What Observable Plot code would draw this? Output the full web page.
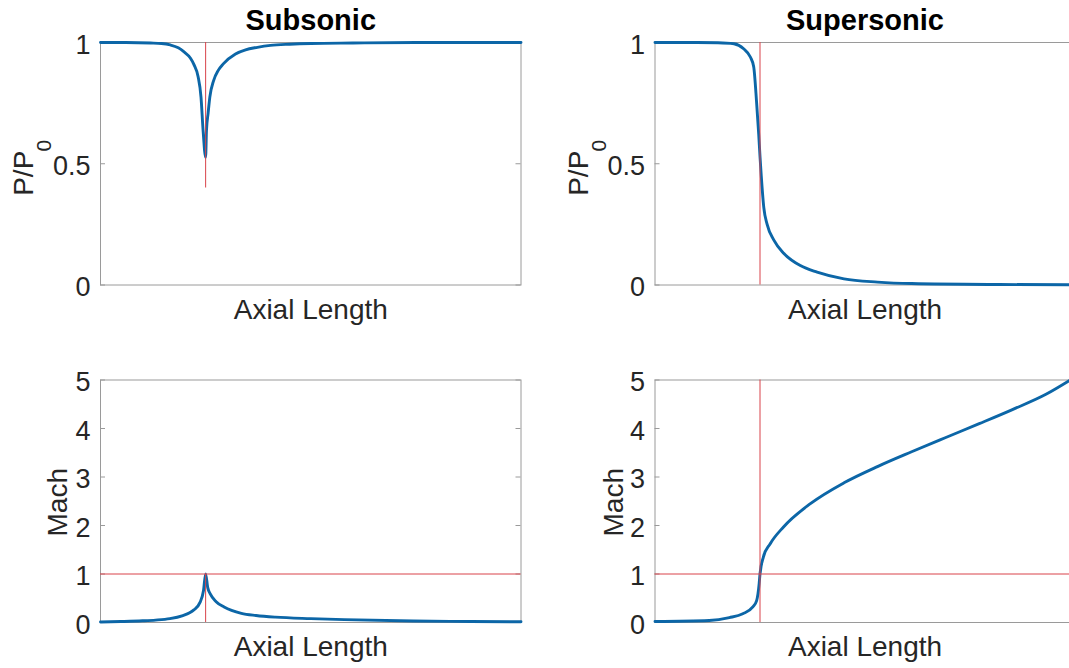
<!DOCTYPE html>
<html><head><meta charset="utf-8">
<script src="https://cdn.jsdelivr.net/npm/d3@7"></script>
<script src="https://cdn.jsdelivr.net/npm/@observablehq/plot@0.6"></script>
<style>
html,body{margin:0;padding:0;background:#fff;overflow:hidden;}
#fig{position:relative;width:1069px;height:668px;overflow:hidden;background:#fff;}
.panel{position:absolute;}
</style></head><body><div id="fig"></div>
<script>
// ---- data (axial position as fraction of length, throat at 0.25) ----
const titles = ["Subsonic", "Supersonic"];
const xLabel = "Axial Length";
const pTicks = [0, 0.5, 1];
const machTicks = [0, 1, 2, 3, 4, 5];
const throatX = 0.25;

const subPx = [0, 0.06, 0.119, 0.145, 0.166, 0.185, 0.198, 0.214, 0.222, 0.232, 0.239, 0.244, 0.25, 0.252, 0.256, 0.260, 0.269, 0.28, 0.292, 0.321, 0.345, 0.373, 0.404, 0.45, 0.5, 0.6, 0.75, 1.0];
const subP  = [1.0, 1.0, 0.998, 0.996, 0.99, 0.978, 0.962, 0.935, 0.91, 0.86, 0.775, 0.637, 0.527, 0.637, 0.71, 0.775, 0.843, 0.885, 0.912, 0.953, 0.97, 0.98, 0.988, 0.993, 0.996, 0.998, 1.0, 1.0];

const subMx = [0, 0.048, 0.1, 0.131, 0.165, 0.196, 0.212, 0.222, 0.237, 0.245, 0.25, 0.255, 0.261, 0.275, 0.294, 0.335, 0.37, 0.416, 0.5, 0.58, 0.744, 0.88, 1.0];
const subM  = [0.01, 0.02, 0.035, 0.05, 0.08, 0.144, 0.2, 0.26, 0.42, 0.66, 1.0, 0.72, 0.59, 0.43, 0.32, 0.19, 0.145, 0.11, 0.08, 0.06, 0.03, 0.02, 0.015];

const supPx = [0, 0.1, 0.15, 0.188, 0.211, 0.227, 0.235, 0.242, 0.247, 0.25, 0.253, 0.259, 0.267, 0.283, 0.307, 0.346, 0.386, 0.45, 0.53, 0.611, 0.82, 0.987];
const supP  = [1.0, 1.0, 0.999, 0.995, 0.974, 0.94, 0.90, 0.75, 0.62, 0.53, 0.45, 0.32, 0.25, 0.185, 0.13, 0.08, 0.053, 0.025, 0.012, 0.006, 0.002, 0.001];

const supMx = [0, 0.129, 0.177, 0.209, 0.233, 0.242, 0.248, 0.25, 0.258, 0.274, 0.306, 0.37, 0.45, 0.531, 0.611, 0.691, 0.772, 0.851, 0.932, 0.987];
const supM  = [0.02, 0.04, 0.1, 0.18, 0.32, 0.45, 0.80, 1.0, 1.35, 1.62, 1.97, 2.45, 2.88, 3.22, 3.52, 3.81, 4.10, 4.39, 4.71, 4.99];

const toRows = (xs, ys) => xs.map((x, i) => ({x, y: ys[i]}));

const BLUE = "#0c66a7", RED = "#d9434a", FRAME = "#9a9a9a", INK = "#262626";
const FONT = "'Liberation Sans', Arial, Helvetica, sans-serif";

function panel(o) {
  const plotW = o.width - o.ml - o.mr;
  const marks = [
    Plot.frame({stroke: FRAME, strokeWidth: 1}),
    Plot.ruleY(o.yTicks, {insetRight: plotW - 5, stroke: FRAME}),
    Plot.ruleY(o.yTicks, {insetLeft: plotW - 5, stroke: FRAME}),
    Plot.axisY(o.yTicks, {tickSize: 0, tickPadding: 10, fontSize: 27, fill: INK, dy: 2.5, label: null, tickFormat: d => String(d)}),
    Plot.line(o.rows, {x: "x", y: "y", stroke: BLUE, strokeWidth: 2.9, strokeLinejoin: "round", curve: "monotone-x"}),
    Plot.ruleX([throatX], {y1: o.redY1, y2: o.redY2, stroke: RED, strokeWidth: 1}),
  ];
  if (o.redH != null) marks.push(Plot.ruleY([o.redH], {stroke: RED, strokeWidth: 1}));
  if (o.title) marks.push(Plot.text([o.title], {text: d => d, frameAnchor: "top", dy: -22, lineAnchor: "middle", textAnchor: "middle", fontSize: 29, fontWeight: "bold", fill: "#000"}));
  marks.push(Plot.text([xLabel], {text: d => d, frameAnchor: "bottom", dy: 25, lineAnchor: "middle", textAnchor: "middle", fontSize: 28, fill: INK}));
  for (const t of o.ylabels) {
    marks.push(Plot.text([t.text], {text: d => d, frameAnchor: "left", rotate: -90, dx: t.dx, dy: t.dy, lineAnchor: "middle", textAnchor: "middle", fontSize: t.size, fill: INK}));
  }
  const svg = Plot.plot({
    width: o.width, height: o.height,
    marginLeft: o.ml, marginRight: o.mr, marginTop: o.mt, marginBottom: o.mb,
    x: {domain: [0, 1], axis: null},
    y: {domain: o.yDomain, axis: null},
    style: {fontFamily: FONT, background: "transparent", overflow: "visible"},
    marks
  });
  svg.classList.add("panel");
  svg.style.left = o.left + "px";
  svg.style.top = o.top + "px";
  document.getElementById("fig").appendChild(svg);
}

panel({left: 0, top: 0, width: 535, height: 335, ml: 100, mr: 14.5, mt: 42, mb: 50.5,
  yDomain: [0, 1], yTicks: pTicks, rows: toRows(subPx, subP), redY1: 0.4, redY2: 1, redH: null,
  title: titles[0], ylabels: [{text: "P/P", dx: -76, dy: 9.5, size: 28}, {text: "0", dx: -56, dy: -18, size: 21}]});
panel({left: 540, top: 0, width: 540, height: 335, ml: 114.5, mr: 5.5, mt: 42, mb: 50.5,
  yDomain: [0, 1], yTicks: pTicks, rows: toRows(supPx, supP), redY1: 0, redY2: 1, redH: null,
  title: titles[1], ylabels: [{text: "P/P", dx: -75.5, dy: 9.5, size: 28}, {text: "0", dx: -55.5, dy: -18, size: 21}]});
panel({left: 0, top: 335, width: 535, height: 333, ml: 100, mr: 14.5, mt: 44.5, mb: 46,
  yDomain: [0, 5], yTicks: machTicks, rows: toRows(subMx, subM), redY1: 0, redY2: 1, redH: 1,
  title: null, ylabels: [{text: "Mach", dx: -42.5, dy: 1, size: 28}]});
panel({left: 540, top: 335, width: 540, height: 333, ml: 114.5, mr: 5.5, mt: 44.5, mb: 46,
  yDomain: [0, 5], yTicks: machTicks, rows: toRows(supMx, supM), redY1: 0, redY2: 5, redH: 1,
  title: null, ylabels: [{text: "Mach", dx: -41, dy: 1, size: 28}]});
</script>
</body></html>
